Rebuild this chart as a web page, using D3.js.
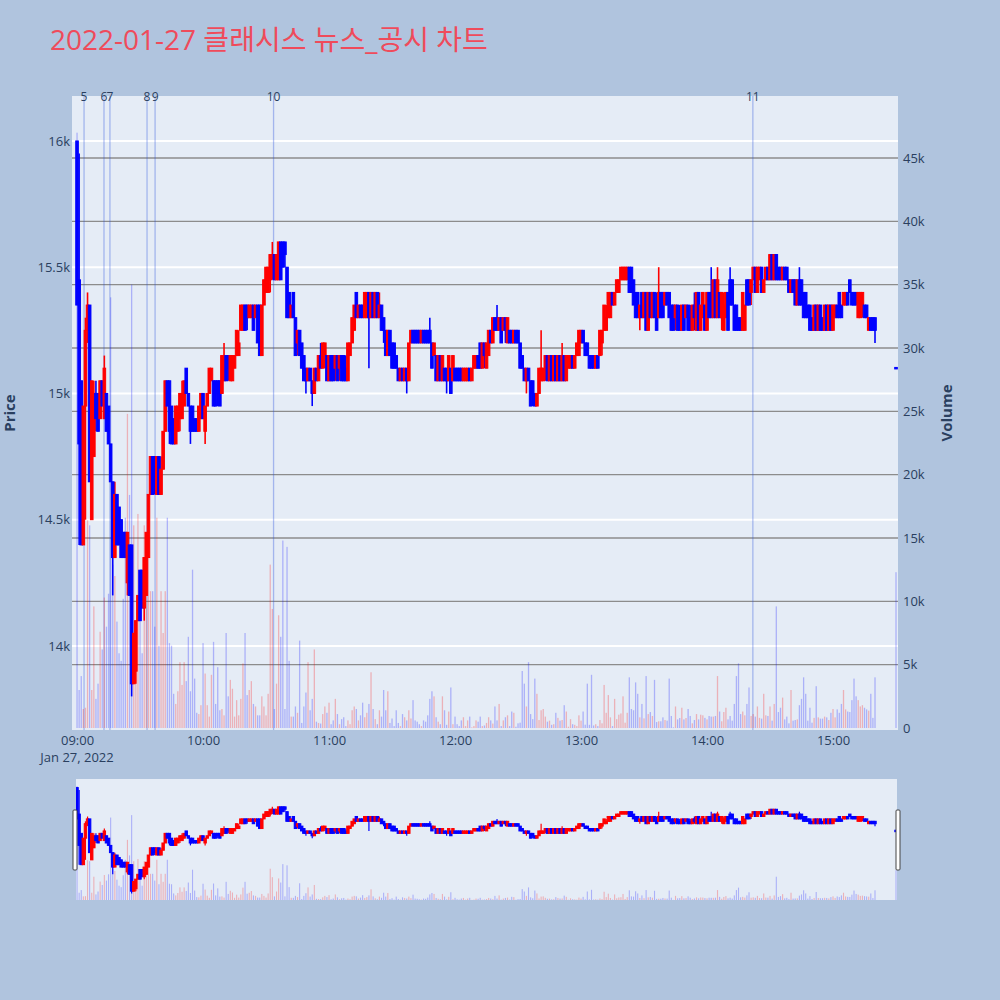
<!DOCTYPE html>
<html><head><meta charset="utf-8">
<script src="https://cdn.jsdelivr.net/npm/d3@7"></script>
<style>body{margin:0;background:#B0C4DE;}svg{display:block;font-family:"Open Sans","Noto Sans CJK KR",sans-serif;}</style>
</head><body><svg id="c" width="1000" height="1000"></svg>
<script>
const chartTitle = "2022-01-27 클래시스 뉴스_공시 차트";
const sessionDate = "2022-01-27";
// minute offsets from 09:00 (09:00 .. 15:20, then 15:30 closing)
const minuteOfSession = d3.range(0, 381).concat([390]);

const open = [
16000,15450,15050,14400,14950,15250,15350,14500,14750,15000,
15000,14900,15050,14900,15000,14950,14800,14650,14350,14600,
14550,14500,14450,14450,14250,14400,14400,13850,13900,14100,
14300,14300,14150,14200,14350,14600,14750,14750,14600,14750,
14600,14700,14850,15050,15050,14950,14900,14800,14850,14900,
14900,14950,15100,15000,14950,14950,14900,14900,14850,14900,
15000,14850,14950,15000,15050,15050,15050,15050,15050,15000,
15050,15150,15150,15050,15050,15100,15150,15150,15250,15250,
15350,15350,15300,15300,15350,15300,15350,15350,15150,15350,
15400,15400,15450,15500,15550,15450,15450,15600,15600,15600,
15500,15400,15300,15400,15300,15200,15250,15200,15150,15100,
15050,15100,15050,15000,15100,15050,15150,15100,15150,15150,
15050,15150,15150,15100,15150,15100,15150,15150,15100,15050,
15150,15200,15250,15400,15300,15350,15350,15300,15300,15400,
15300,15400,15300,15400,15300,15350,15300,15250,15150,15250,
15200,15200,15150,15100,15050,15100,15050,15100,15050,15200,
15250,15250,15250,15250,15200,15250,15250,15250,15250,15200,
15150,15150,15050,15150,15050,15100,15100,15050,15100,15050,
15100,15100,15100,15100,15050,15050,15050,15100,15050,15100,
15100,15150,15200,15100,15200,15100,15150,15250,15200,15300,
15300,15250,15300,15250,15300,15200,15250,15250,15200,15250,
15250,15200,15150,15100,15050,15100,15050,15050,15000,14950,
15000,15050,15050,15100,15150,15050,15150,15050,15150,15050,
15150,15050,15150,15050,15100,15100,15150,15100,15150,15150,
15200,15250,15200,15200,15150,15150,15150,15100,15150,15150,
15200,15250,15250,15300,15300,15400,15350,15400,15400,15450,
15450,15450,15450,15500,15500,15450,15400,15400,15300,15400,
15300,15400,15250,15400,15300,15400,15300,15300,15400,15400,
15350,15400,15400,15350,15350,15300,15350,15300,15250,15350,
15300,15350,15300,15250,15350,15250,15400,15250,15300,15350,
15250,15400,15400,15300,15450,15300,15400,15300,15250,15300,
15400,15450,15450,15350,15350,15300,15300,15250,15250,15450,
15450,15400,15450,15500,15400,15450,15500,15400,15450,15500,
15450,15550,15450,15550,15500,15500,15450,15500,15500,15450,
15400,15450,15450,15350,15450,15450,15400,15400,15350,15350,
15300,15250,15350,15250,15350,15300,15250,15350,15250,15350,
15250,15300,15350,15400,15350,15350,15350,15400,15450,15400,
15400,15400,15300,15300,15350,15350,15350,15250,15300,15300,
15300,15100];

const high = [
16000,15950,15050,14950,15300,15400,15350,15050,15050,15050,
15000,15050,15050,15150,15000,14950,14800,14650,14650,14600,
14550,14500,14450,14450,14450,14400,14400,14050,14100,14200,
14300,14300,14350,14450,14600,14750,14750,14750,14750,14750,
14750,14850,15050,15050,15050,14950,14900,14950,14950,15000,
15050,15050,15100,15000,14950,14950,14900,14900,14950,15000,
15000,14950,15000,15100,15100,15050,15050,15050,15050,15150,
15200,15150,15150,15150,15150,15150,15250,15250,15350,15350,
15350,15350,15350,15350,15350,15350,15350,15350,15350,15450,
15500,15500,15550,15600,15550,15550,15600,15600,15600,15600,
15500,15400,15350,15400,15300,15250,15250,15200,15150,15100,
15100,15100,15050,15100,15100,15150,15200,15200,15200,15150,
15150,15150,15150,15150,15150,15150,15150,15150,15150,15200,
15200,15300,15350,15400,15350,15350,15350,15400,15400,15400,
15400,15400,15400,15400,15400,15350,15300,15250,15250,15250,
15200,15200,15150,15100,15100,15100,15100,15100,15200,15250,
15250,15250,15250,15250,15250,15250,15250,15250,15300,15200,
15200,15150,15150,15150,15150,15100,15100,15150,15100,15150,
15100,15100,15100,15100,15100,15100,15100,15100,15100,15150,
15150,15150,15200,15200,15200,15200,15250,15250,15300,15300,
15350,15300,15300,15300,15300,15300,15250,15250,15250,15250,
15250,15200,15150,15100,15100,15100,15050,15050,15000,15000,
15100,15250,15100,15150,15150,15150,15150,15150,15150,15150,
15150,15200,15150,15150,15150,15150,15150,15150,15200,15250,
15250,15250,15200,15200,15150,15150,15150,15150,15150,15250,
15250,15350,15350,15400,15400,15400,15400,15450,15450,15500,
15500,15500,15500,15500,15500,15450,15400,15400,15350,15400,
15400,15400,15400,15400,15400,15400,15400,15500,15400,15400,
15400,15400,15400,15350,15350,15350,15350,15350,15350,15350,
15350,15350,15350,15350,15400,15400,15400,15350,15400,15350,
15400,15400,15500,15450,15450,15500,15400,15400,15400,15400,
15400,15500,15450,15350,15350,15300,15300,15400,15350,15450,
15450,15450,15500,15500,15500,15500,15500,15450,15500,15500,
15550,15550,15550,15550,15500,15500,15500,15500,15500,15450,
15450,15450,15450,15450,15500,15450,15400,15400,15350,15350,
15300,15350,15350,15350,15350,15300,15350,15350,15350,15350,
15350,15350,15350,15400,15350,15400,15400,15400,15450,15400,
15400,15400,15400,15400,15400,15350,15350,15300,15300,15300,
15300,15100];

const low = [
15350,14400,14400,14400,14500,15200,14650,14500,14750,14850,
14850,14900,14950,14900,14850,14800,14650,14200,14350,14400,
14400,14350,14350,14350,14200,14200,13800,13850,13850,14100,
14100,14150,14100,14200,14350,14600,14600,14600,14600,14600,
14600,14700,14850,14950,14800,14800,14800,14800,14850,14850,
14900,14950,15000,14950,14800,14850,14850,14850,14850,14900,
14900,14800,14950,15000,15050,14950,14950,14950,14950,15000,
15050,15050,15050,15050,15050,15100,15150,15150,15250,15250,
15250,15250,15300,15300,15250,15300,15200,15150,15150,15350,
15400,15400,15400,15450,15450,15450,15450,15450,15500,15500,
15300,15300,15300,15300,15150,15150,15150,15100,15050,15000,
15050,15050,14950,15000,15050,15050,15100,15100,15100,15050,
15050,15050,15050,15050,15050,15050,15050,15050,15050,15050,
15150,15200,15250,15300,15300,15300,15300,15300,15300,15100,
15300,15300,15300,15300,15300,15250,15200,15150,15150,15150,
15100,15100,15100,15050,15050,15050,15050,15000,15050,15200,
15200,15200,15200,15200,15200,15200,15200,15200,15200,15100,
15150,15050,15050,15050,15050,15050,15000,15050,15000,15050,
15050,15050,15050,15050,15050,15050,15050,15050,15050,15100,
15100,15100,15100,15100,15100,15100,15150,15200,15200,15250,
15250,15250,15200,15250,15200,15200,15200,15200,15200,15200,
15200,15100,15100,15050,15000,15050,14950,14950,14950,14950,
15000,15050,15050,15050,15050,15050,15050,15050,15050,15050,
15050,15050,15050,15050,15100,15100,15100,15100,15150,15150,
15200,15200,15150,15150,15100,15100,15100,15100,15100,15150,
15150,15250,15250,15300,15300,15350,15350,15400,15400,15450,
15450,15450,15450,15400,15400,15350,15300,15300,15250,15300,
15300,15250,15250,15300,15300,15300,15250,15300,15300,15300,
15350,15350,15300,15250,15250,15250,15250,15250,15250,15250,
15300,15250,15250,15250,15250,15250,15250,15250,15300,15250,
15250,15300,15300,15300,15300,15300,15300,15250,15250,15300,
15250,15350,15350,15250,15250,15250,15250,15250,15250,15350,
15350,15350,15450,15400,15400,15450,15400,15400,15450,15450,
15450,15450,15450,15450,15450,15450,15450,15450,15450,15400,
15400,15400,15350,15350,15350,15350,15300,15300,15300,15250,
15250,15250,15250,15250,15250,15250,15250,15250,15250,15250,
15250,15300,15300,15300,15300,15350,15350,15350,15400,15350,
15350,15350,15300,15300,15300,15300,15300,15250,15250,15250,
15200,15100];

const close = [
15350,14800,14400,14950,15250,15350,14650,15050,15000,14900,
14850,15050,14950,15100,14850,14800,14650,14350,14600,14400,
14400,14350,14350,14350,14450,14200,13850,14050,14100,14200,
14100,14150,14350,14450,14600,14750,14600,14650,14750,14600,
14700,14850,15050,14950,14850,14800,14800,14950,14950,15000,
15000,15050,15000,14950,14850,14850,14850,14850,14950,15000,
14900,14950,15000,15100,15100,14950,14950,15000,14950,15150,
15150,15050,15100,15150,15150,15150,15250,15200,15350,15350,
15250,15300,15350,15350,15250,15350,15200,15150,15350,15450,
15500,15500,15550,15550,15450,15550,15600,15450,15500,15550,
15300,15300,15350,15300,15150,15250,15150,15100,15050,15050,
15100,15050,15000,15100,15050,15150,15100,15200,15200,15050,
15150,15050,15050,15150,15050,15150,15050,15050,15050,15200,
15200,15300,15350,15300,15350,15300,15300,15400,15400,15300,
15400,15300,15400,15300,15350,15250,15250,15150,15250,15150,
15100,15100,15100,15050,15100,15050,15100,15050,15200,15250,
15200,15200,15200,15200,15250,15200,15200,15200,15200,15100,
15200,15050,15150,15050,15150,15050,15050,15150,15000,15150,
15050,15050,15050,15050,15100,15100,15100,15050,15100,15150,
15150,15100,15100,15200,15150,15200,15250,15200,15300,15250,
15250,15300,15200,15300,15250,15300,15200,15200,15250,15200,
15200,15100,15100,15050,15100,15050,14950,15000,14950,15000,
15100,15100,15100,15150,15050,15150,15050,15150,15050,15150,
15050,15150,15050,15150,15150,15150,15100,15150,15200,15250,
15250,15200,15150,15150,15100,15100,15100,15150,15100,15250,
15250,15350,15300,15400,15400,15350,15400,15450,15450,15500,
15500,15500,15500,15400,15400,15350,15300,15300,15350,15300,
15400,15250,15400,15300,15400,15300,15250,15400,15300,15300,
15400,15350,15300,15250,15250,15350,15250,15250,15350,15250,
15350,15250,15250,15350,15300,15400,15250,15350,15400,15250,
15400,15300,15300,15450,15300,15450,15300,15400,15350,15400,
15250,15350,15350,15250,15250,15250,15250,15400,15350,15350,
15350,15450,15500,15400,15500,15500,15400,15450,15500,15450,
15550,15450,15550,15450,15450,15450,15500,15450,15450,15400,
15450,15400,15350,15450,15350,15350,15300,15300,15300,15250,
15250,15350,15250,15350,15250,15250,15350,15250,15350,15250,
15350,15350,15300,15300,15300,15400,15400,15350,15400,15350,
15350,15350,15400,15400,15400,15300,15300,15300,15250,15250,
15250,15100];

const volume = [
47000,3000,4100,1500,1600,16400,16000,3000,9600,2300,
3500,7600,6200,10300,8000,10600,34000,12900,12000,8400,
5900,5300,10200,16600,24800,18400,35000,16000,6800,16900,
12300,5900,16000,15200,16300,10800,10800,8000,16600,6500,
10800,7500,10800,16600,6700,6500,2700,1900,2900,5200,
3400,5200,3700,7200,2900,12500,3900,1200,1100,1800,
6700,4300,1800,900,4200,6800,1900,4800,1400,1500,
1000,7500,2500,3800,3100,900,2200,1000,2300,5100,
7500,2600,3000,3700,1900,1700,1000,1000,2500,1700,
1000,2700,12900,9400,1500,3500,8900,7200,14800,1500,
14300,5300,900,900,1700,1200,6900,400,1700,2800,
5200,1400,2300,6200,500,400,350,1100,1700,1200,
2000,300,600,2300,1100,300,700,850,150,600,
300,1400,1700,1500,600,1000,2000,850,1200,1900,
4400,1500,700,300,1400,900,3000,1400,2900,400,
750,150,1400,400,150,1100,850,600,1400,750,
2200,600,500,300,150,600,500,1000,2300,2900,
2500,850,500,300,2500,1400,250,1300,3200,300,
900,300,150,600,850,150,600,900,50,150,
600,500,900,150,200,400,850,600,350,1700,
600,1900,150,600,850,1000,150,1300,1200,100,
370,420,4500,3500,1700,5200,1100,700,3900,2700,
630,1400,1500,900,500,580,250,300,1200,800,
580,630,1800,1300,100,700,300,250,150,1000,
580,1300,260,3500,250,4200,200,300,150,630,
370,3400,1200,2600,840,150,2300,700,1050,1150,
2500,420,1200,4000,1500,1400,3600,2700,840,1900,
760,4100,1100,1260,950,3800,470,530,530,840,
630,580,3900,950,50,1700,680,790,1600,680,
790,1500,950,370,630,1100,680,1050,1000,800,
680,950,900,900,950,4100,1300,530,1260,1600,
680,950,580,1900,4100,5100,1100,1300,1000,1900,
3200,950,1100,900,1700,800,740,2700,1000,950,
1700,580,1900,9600,1260,1600,2400,680,900,370,
3000,580,630,680,1800,2300,4000,2700,580,1600,
420,800,3300,840,740,740,900,840,630,1200,
1500,840,1470,1200,1900,3000,1470,1300,1260,2200,
3900,2500,2200,1700,1800,1600,1470,1370,2700,800,
4000,12300];

const newsLabels = ["5","6","7","8","9","10","11"];
const newsTimes = ["09:03:20","09:12:50","09:15:40","09:33:20","09:37:10","10:33:35","14:21:50"];

const priceTicks = [14000,14500,15000,15500,16000];
const priceTickLabels = ["14k","14.5k","15k","15.5k","16k"];
const volumeTicks = [0,5000,10000,15000,20000,25000,30000,35000,40000,45000];
const volumeTickLabels = ["0","5k","10k","15k","20k","25k","30k","35k","40k","45k"];
const timeTicks = ["09:00","10:00","11:00","12:00","13:00","14:00","15:00"];
const dateLabel = "Jan 27, 2022";

// ---------------------------------------------------------------
const svg = d3.select("#c");
const parseT = d3.timeParse("%Y-%m-%d %H:%M:%S");
const t0 = parseT(sessionDate + " 09:00:00");
const times = minuteOfSession.map(m => d3.timeMinute.offset(t0, m));
const candles = times.map((t, i) => ({t, o: open[i], h: high[i], l: low[i], c: close[i], v: volume[i], up: close[i] > open[i]}));

const P = {left: 72, right: 898, top: 96, bottom: 730};
const x = d3.scaleTime()
  .domain([d3.timeSecond.offset(t0, -144), d3.timeSecond.offset(t0, 390 * 60 + 57)])
  .range([P.left, P.right]);
const yP = d3.scaleLinear().domain([13667, 16178]).range([P.bottom, P.top]);
const yV = d3.scaleLinear().domain([-158, 49895]).range([P.bottom, P.top]);

const TXT = "#2a3f5f";
const RED = "#ff0000", BLUE = "#0000ff";

svg.append("rect").attr("width", 1000).attr("height", 1000).attr("fill", "#B0C4DE");

// title
svg.append("text").attr("x", 50).attr("y", 50).attr("font-size", 28).attr("fill", "#EF4B5B")
  .text(chartTitle);

// plot background
svg.append("rect").attr("x", P.left).attr("y", P.top).attr("width", P.right - P.left).attr("height", P.bottom - P.top)
  .attr("fill", "#E5ECF6");

const defs = svg.append("defs");
defs.append("clipPath").attr("id", "clipMain").append("rect")
  .attr("x", P.left).attr("y", P.top).attr("width", P.right - P.left).attr("height", P.bottom - P.top);

// price grid (white)
svg.append("g").selectAll("line").data(priceTicks).join("line")
  .attr("x1", P.left).attr("x2", P.right).attr("y1", d => yP(d)).attr("y2", d => yP(d))
  .attr("stroke", "#ffffff").attr("stroke-width", 2);
// volume grid (gray)
svg.append("g").selectAll("line").data(volumeTicks.filter(d => d > 0)).join("line")
  .attr("x1", P.left).attr("x2", P.right).attr("y1", d => yV(d)).attr("y2", d => yV(d))
  .attr("stroke", "#8c8c8c").attr("stroke-width", 1.3);

function drawSeries(g, yPs, yVs, wick, bodyW, barW) {
  g.append("g").selectAll("rect").data(candles).join("rect")
    .attr("x", d => x(d.t) - barW / 2).attr("width", barW)
    .attr("y", d => yVs(d.v)).attr("height", d => Math.max(0, yVs(0) - yVs(d.v)))
    .attr("fill", d => d.up ? "rgba(255,0,0,0.25)" : "rgba(0,0,255,0.25)");
  g.append("g").selectAll("line").data(candles).join("line")
    .attr("x1", d => x(d.t)).attr("x2", d => x(d.t))
    .attr("y1", d => yPs(d.h)).attr("y2", d => yPs(d.l))
    .attr("stroke", d => d.up ? RED : BLUE).attr("stroke-width", wick);
  g.append("g").selectAll("rect").data(candles).join("rect")
    .attr("x", d => x(d.t) - bodyW / 2).attr("width", bodyW)
    .attr("y", d => yPs(Math.max(d.o, d.c)) - (d.o === d.c ? 0.75 : 0))
    .attr("height", d => Math.max(1.5, Math.abs(yPs(d.o) - yPs(d.c))))
    .attr("fill", d => d.up ? RED : BLUE)
    .attr("stroke", d => d.up ? RED : BLUE).attr("stroke-width", 1);
}

// news lines
const newsT = newsTimes.map(s => parseT(sessionDate + " " + s));
const gMain = svg.append("g").attr("clip-path", "url(#clipMain)");
gMain.append("g").selectAll("line").data(newsT).join("line")
  .attr("x1", d => x(d)).attr("x2", d => x(d)).attr("y1", P.top).attr("y2", P.bottom)
  .attr("stroke", "rgba(40,80,220,0.35)").attr("stroke-width", 1.3);
drawSeries(gMain, yP, yV, 1.6, 2.6, 1.3);

svg.append("g").selectAll("text").data(newsLabels).join("text")
  .attr("x", (d, i) => x(newsT[i])).attr("y", 101).attr("text-anchor", "middle")
  .attr("font-size", 12).attr("fill", TXT).text(d => d);

// axes
const axL = d3.axisLeft(yP).tickValues(priceTicks).tickFormat((d, i) => priceTickLabels[i]).tickSize(0).tickPadding(2);
const gL = svg.append("g").attr("transform", `translate(${P.left},0)`).call(axL);
const axR = d3.axisRight(yV).tickValues(volumeTicks).tickFormat((d, i) => volumeTickLabels[i]).tickSize(0).tickPadding(5);
const gR = svg.append("g").attr("transform", `translate(${P.right},0)`).call(axR);
const timeTickDates = timeTicks.map(s => parseT(sessionDate + " " + s + ":00"));
const axB = d3.axisBottom(x).tickValues(timeTickDates).tickFormat((d, i) => timeTicks[i]).tickSize(0).tickPadding(6);
const gB = svg.append("g").attr("transform", `translate(0,${P.bottom})`).call(axB);
[gL, gR, gB].forEach(g => {
  g.select(".domain").remove();
  g.selectAll("text").attr("fill", TXT).attr("font-size", 13).attr("font-family", '"Open Sans", sans-serif');
});
svg.append("text").attr("x", x(t0)).attr("y", 762).attr("text-anchor", "middle")
  .attr("font-size", 13).attr("fill", TXT).text(dateLabel);

// axis titles
svg.append("text").attr("transform", `translate(15,${(P.top + P.bottom) / 2}) rotate(-90)`)
  .attr("text-anchor", "middle").attr("font-size", 15).attr("font-weight", "bold").attr("fill", TXT).text("Price");
svg.append("text").attr("transform", `translate(952,${(P.top + P.bottom) / 2}) rotate(-90)`)
  .attr("text-anchor", "middle").attr("font-size", 15).attr("font-weight", "bold").attr("fill", TXT).text("Volume");

// range slider
const S = {left: 76, right: 897, top: 779, bottom: 900};
svg.append("rect").attr("x", S.left).attr("y", S.top).attr("width", S.right - S.left).attr("height", S.bottom - S.top)
  .attr("fill", "#E5ECF6");
defs.append("clipPath").attr("id", "clipSlider").append("rect")
  .attr("x", S.left).attr("y", S.top).attr("width", S.right - S.left).attr("height", S.bottom - S.top);
const ySP = d3.scaleLinear().domain(yP.domain()).range([S.bottom, S.top]);
const ySV = d3.scaleLinear().domain([0, 49895]).range([S.bottom, S.top]);
const gS = svg.append("g").attr("clip-path", "url(#clipSlider)");
drawSeries(gS, ySP, ySV, 1.2, 2.4, 1.1);
[73, 896].forEach(hx => {
  svg.append("rect").attr("x", hx).attr("y", 810).attr("width", 4).attr("height", 60)
    .attr("rx", 1).attr("fill", "#ffffff").attr("stroke", "#444").attr("stroke-width", 1);
});
</script></body></html>
